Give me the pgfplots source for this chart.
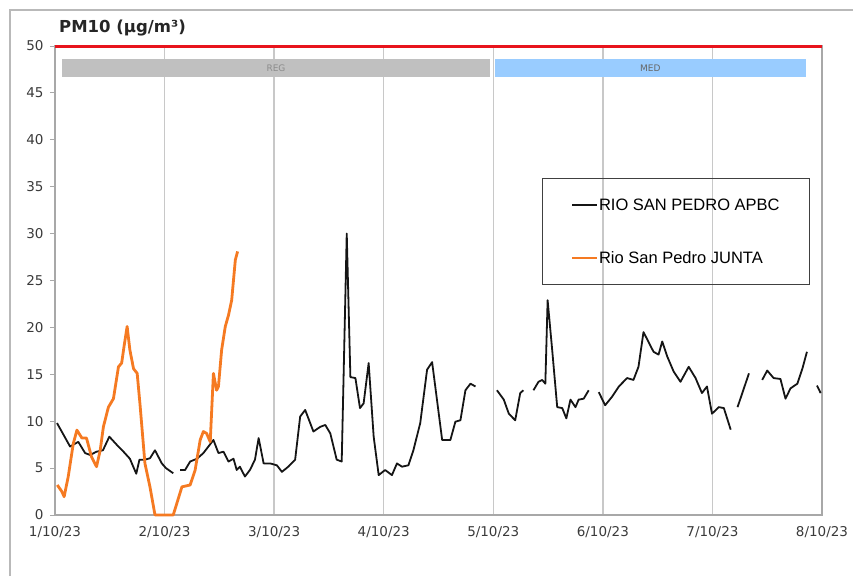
\documentclass[border=0pt]{standalone}
\usepackage{fontspec}
\setmainfont{DejaVu Sans}
\newfontfamily\legfont{Liberation Sans}
\usepackage{pgfplots}
\usepackage{pgfplotstable}
\pgfplotsset{compat=1.18}
\definecolor{apbc}{HTML}{151515}
\definecolor{junta}{HTML}{F57A22}
\definecolor{limitred}{HTML}{E8141C}
\definecolor{gridgray}{HTML}{C8C8C8}
\definecolor{axgray}{HTML}{A8A8A8}
\definecolor{reggray}{HTML}{C0C0C0}
\definecolor{medblue}{HTML}{99CCFF}
\definecolor{ticktext}{HTML}{3A3A3A}

\pgfplotstableread{
h v
0.44 9.8
3.3 7.3
5.1 7.8
6.6 6.6
7.7 6.4
9.1 6.75
10.5 6.9
11.9 8.35
13.5 7.5
15.0 6.75
16.4 6.0
17.8 4.4
18.5 5.9
19.7 5.9
20.8 6.05
21.9 6.9
23.4 5.5
24.3 5.0
25.9 4.45
26.6 nan
27.4 4.8
28.5 4.8
29.6 5.7
31.1 6.0
32.5 6.6
33.6 7.3
34.7 8.0
35.8 6.6
36.9 6.75
38.0 5.7
39.1 6.0
39.8 4.8
40.5 5.15
41.6 4.1
42.7 4.8
43.8 5.9
44.6 8.2
45.7 5.5
47.1 5.5
48.6 5.3
49.7 4.6
51.1 5.15
52.6 5.9
53.7 10.5
54.8 11.2
56.6 8.9
58.1 9.4
59.2 9.6
60.3 8.7
61.7 5.9
62.8 5.7
63.9 30.0
64.7 14.7
65.8 14.6
66.8 11.4
67.6 11.9
68.7 16.2
69.8 8.35
70.9 4.25
72.3 4.8
73.8 4.25
74.9 5.5
76.0 5.15
77.4 5.3
78.5 6.9
80.0 9.8
81.5 15.5
82.6 16.3
84.8 8.0
86.6 8.0
87.7 9.95
88.8 10.1
89.9 13.3
91.0 14.0
92.1 13.7
94.0 nan
96.8 13.3
98.3 12.3
99.4 10.8
100.8 10.1
101.9 13.0
102.6 13.3
103.5 nan
104.8 13.3
105.9 14.2
106.7 14.4
107.4 14.0
107.9 22.9
108.9 17.6
110.0 11.5
111.1 11.4
112.0 10.3
112.9 12.3
114.0 11.5
114.7 12.3
115.8 12.4
116.9 13.3
118.0 nan
119.1 13.1
120.5 11.7
122.0 12.6
123.5 13.7
125.3 14.6
126.7 14.4
127.8 15.8
128.9 19.5
131.1 17.4
132.2 17.1
133.0 18.5
134.1 16.9
135.5 15.3
137.0 14.2
138.8 15.8
140.3 14.6
141.7 13.0
142.8 13.7
143.9 10.8
145.4 11.5
146.5 11.4
148.0 9.1
148.8 nan
149.5 11.5
152.0 15.1
153.5 nan
154.9 14.4
156.0 15.4
157.4 14.6
158.9 14.5
160.0 12.4
161.1 13.5
162.6 14.0
163.7 15.6
164.7 17.4
165.8 nan
166.9 13.8
167.7 13.0
}\apbc

\pgfplotstableread{
h v
0.5 3.2
1.5 2.5
2.0 1.95
2.9 4.1
4.0 7.6
4.8 9.05
5.9 8.2
6.9 8.2
8.0 6.2
9.1 5.15
9.9 6.9
10.6 9.4
11.7 11.5
12.8 12.4
13.9 15.8
14.6 16.2
15.1 17.9
15.8 20.1
16.4 17.6
17.2 15.6
18.0 15.1
18.6 11.9
19.7 5.5
20.8 3.0
21.9 0
25.9 0
27.8 3.0
29.6 3.2
30.7 4.8
31.8 8.0
32.5 8.9
33.2 8.7
34.0 7.8
34.7 15.1
35.4 13.3
35.8 13.7
36.5 17.6
37.3 20.1
38.0 21.3
38.7 22.9
39.5 27.2
40.0 28.1
}\junta

\begin{document}
\begin{tikzpicture}
\useasboundingbox (-55pt,-61pt) rectangle (798pt,515pt);
\draw[gray!55, line width=1.5pt] (-45pt,-61pt) -- (-45pt,505pt) -- (798pt,505pt);
\node[anchor=base west, inner sep=0pt, font=\bfseries\fontsize{16.5}{19}\selectfont, text=black!85] at (4pt,482pt) {PM10 (µg/m³)};
\begin{axis}[
  at={(0pt,0pt)}, anchor=south west,
  scale only axis, width=767pt, height=469pt,
  xmin=0, xmax=168, ymin=0, ymax=50,
  clip=false,
  axis line style={axgray, line width=1.5pt},
  xtick={0,24,...,168},
  xticklabels={1/10/23,2/10/23,3/10/23,4/10/23,5/10/23,6/10/23,7/10/23,8/10/23},
  ytick={0,5,...,50},
  ytick pos=left,
  xmajorgrids,
  major grid style={gridgray, line width=1.5pt},
  tick align=outside,
  major tick length=5pt,
  tick style={axgray, line width=1pt},
  xtick style={draw=none},
  /pgf/number format/assume math mode=true,
  ticklabel style={font=\fontsize{13.5}{15}\selectfont, text=ticktext},
  yticklabel style={xshift=-3pt},
  xticklabel style={yshift=-3pt},
  unbounded coords=jump,
  legend style={at={(0.635,0.7186)}, anchor=north west, draw=black!75, line width=1pt,
    fill=none, font=\legfont\fontsize{16.5}{19}\selectfont, inner xsep=29pt, inner ysep=19pt,
    row sep=38pt, cells={anchor=west}, nodes={inner sep=1pt}},
  legend image code/.code={\draw[#1, line width=1.5pt] (0pt,0pt) -- (25pt,0pt);},
]
\fill[reggray] (axis cs:1.5,46.7) rectangle (axis cs:95.3,48.6);
\fill[medblue] (axis cs:96.4,46.7) rectangle (axis cs:164.4,48.6);
\node[font=\fontsize{9}{10}\selectfont, text=gray!90] at (axis cs:48.4,47.65) {REG};
\node[font=\fontsize{9}{10}\selectfont, text=black!60] at (axis cs:130.4,47.65) {MED};
\addplot[limitred, line width=3pt, forget plot] coordinates {(0,50) (168,50)};
\addplot[apbc, line width=1.8pt, line join=round] table[x=h, y=v] {\apbc};
\addlegendentry{RIO SAN PEDRO APBC}
\addplot[junta, line width=2.8pt, line join=round] table[x=h, y=v] {\junta};
\addlegendentry{Rio San Pedro JUNTA}
\end{axis}
\end{tikzpicture}
\end{document}
